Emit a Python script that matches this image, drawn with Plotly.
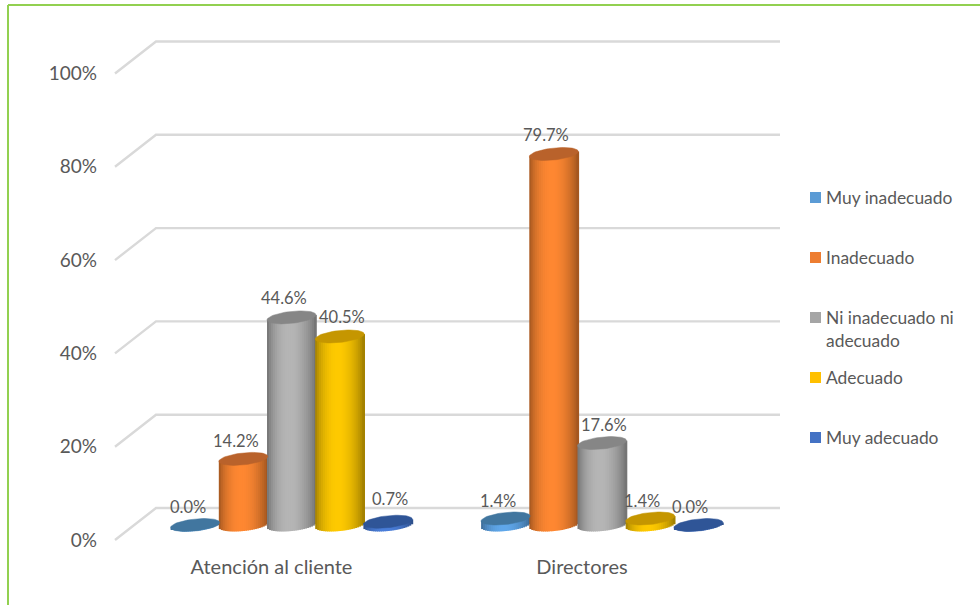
import math
import plotly.graph_objects as go

# Chart data
categories = ["Atención al cliente", "Directores"]
series_names = ["Muy inadecuado", "Inadecuado", "Ni inadecuado ni adecuado", "Adecuado", "Muy adecuado"]
muy_inadecuado = [0.0, 1.4]
inadecuado = [14.2, 79.7]
ni_inadecuado = [44.6, 17.6]
adecuado = [40.5, 1.4]
muy_adecuado = [0.7, 0.0]
tick_values = [0, 20, 40, 60, 80, 100]
tick_labels = ["0%", "20%", "40%", "60%", "80%", "100%"]

series_values = [muy_inadecuado, inadecuado, ni_inadecuado, adecuado, muy_adecuado]

# Colours: lit side of each cylinder, its top cap, and the legend swatch
body_rgb = [(96, 168, 235), (255, 136, 50), (182, 182, 182), (255, 202, 0), (74, 126, 218)]
cap_colors = ["#41769F", "#B9622B", "#868686", "#C59600", "#2F5597"]
swatch_colors = ["#5B9BD5", "#ED7D31", "#A5A5A5", "#FFC000", "#4472C4"]
text_color = "#595959"
font_name = "Lato"

W, H = 980, 605
PX_PER_UNIT = 4.655
FRONT_PX_PER_UNIT = 4.665
CAT_X = (291.5, 602.0)
CAT_LABEL_X = (271.5, 582.0)
BASE_PY = 525
FRONT_ZERO_PY = 540
WALL_ZERO_PY = 508
SLOT_PX = 48.2
RADIUS_PX = 24.5
CAP_B = 6.0
CAP_SHEAR = 2.5
N_STRIPS = 25

cat_step = CAT_X[1] - CAT_X[0]


def x_unit(px):
    return (px - CAT_X[0]) / cat_step


def paper_x(px):
    return px / W


def paper_y(py):
    return 1 - py / H


def shade(u):
    # u runs 0..1 across the cylinder; the highlight sits a little right of centre
    base = math.sin(math.pi * u ** 0.88)
    return 0.60 + 0.40 * max(base, 0) ** 0.75


fig = go.Figure()

# Floor-to-wall slants and wall gridlines, one polyline per axis tick
wall_x, wall_y = [], []
rise = (FRONT_ZERO_PY - WALL_ZERO_PY) / FRONT_PX_PER_UNIT
for v in tick_values:
    wall_x += [x_unit(115), x_unit(156), x_unit(780), None]
    wall_y += [v, v + rise, v + rise, None]
fig.add_trace(go.Scatter(x=wall_x, y=wall_y, mode="lines",
                         line=dict(color="#D9D9D9", width=2.4),
                         showlegend=False, hoverinfo="skip", xaxis="x", yaxis="y"))

# Cylinder bodies: each series is a stack of narrow vertical bar strips
for s, (name, values, rgb) in enumerate(zip(series_names, series_values, body_rgb)):
    offset_px = (s - 2) * SLOT_PX
    step = 2 * RADIUS_PX / N_STRIPS
    for k in range(N_STRIPS):
        left = -RADIUS_PX + k * step
        mid = left + step / 2
        u = mid / RADIUS_PX
        low = (CAP_SHEAR * u - CAP_B * math.sqrt(max(1 - u * u, 0))) / PX_PER_UNIT
        tilt = CAP_SHEAR * u / PX_PER_UNIT
        f = shade((k + 0.5) / N_STRIPS)
        color = "rgb({},{},{})".format(*[int(c * f) for c in rgb])
        fig.add_trace(go.Bar(
            x=[0, 1],
            y=[v + tilt - low for v in values],
            base=[low, low],
            width=(step + 0.8) / cat_step,
            offset=(offset_px + left) / cat_step,
            marker=dict(color=color, line=dict(width=0)),
            name=name, legendgroup=name, showlegend=False, hoverinfo="skip",
            xaxis="x", yaxis="y2",
        ))

# Elliptical top caps, placed at each value
for s, (name, values, cap) in enumerate(zip(series_names, series_values, cap_colors)):
    offset_px = (s - 2) * SLOT_PX
    xs, ys = [], []
    for c, v in enumerate(values):
        for i in range(61):
            t = 2 * math.pi * i / 60
            xs.append(c + (offset_px + RADIUS_PX * math.cos(t)) / cat_step)
            ys.append(v + (CAP_SHEAR * math.cos(t) + CAP_B * math.sin(t)) / PX_PER_UNIT)
        xs.append(None)
        ys.append(None)
    fig.add_trace(go.Scatter(x=xs, y=ys, mode="lines", fill="toself", fillcolor=cap,
                             line=dict(width=0.5, color=cap), name=name,
                             showlegend=False, hoverinfo="skip",
                             xaxis="x", yaxis="y2"))

annotations = []

# Data labels sit just above each cap; crowded ones are nudged sideways
label_dx = [[-7, -8], [-7, -8], [-8, 2], [2, -8], [2, -8]]
label_dy = [[18, 17], [18, 19], [19, 18], [19, 17], [23, 18]]
for s, values in enumerate(series_values):
    offset_px = (s - 2) * SLOT_PX
    for c, v in enumerate(values):
        annotations.append(dict(
            x=c + offset_px / cat_step, y=v, xref="x", yref="y2",
            xshift=label_dx[s][c], yshift=label_dy[s][c],
            text=f"{v:.1f}%", showarrow=False, xanchor="center", yanchor="middle",
            font=dict(family=font_name, size=16.5, color=text_color),
        ))

# Legend column
shapes = []
legend_rows = [197.5, 257.5, 317.5, 377.5, 437.5]
legend_lines = [["Muy inadecuado"], ["Inadecuado"], ["Ni inadecuado ni", "adecuado"],
                ["Adecuado"], ["Muy adecuado"]]
for py, lines, col in zip(legend_rows, legend_lines, swatch_colors):
    shapes.append(dict(type="rect", xref="paper", yref="paper",
                       x0=paper_x(810), x1=paper_x(821),
                       y0=paper_y(py - 5.5), y1=paper_y(py + 5.5),
                       fillcolor=col, line=dict(width=0)))
    for j, line in enumerate(lines):
        annotations.append(dict(
            x=paper_x(823.5), y=paper_y(py + j * 23), xref="paper", yref="paper",
            text=line, showarrow=False, xanchor="left", yanchor="middle",
            font=dict(family=font_name, size=17.4, color=text_color),
        ))

# Green frame, open towards the right and bottom edges
for x0, y0, x1, y1 in [(8, 605, 8, 5), (8, 5, 980, 5)]:
    shapes.append(dict(type="line", xref="paper", yref="paper",
                       x0=paper_x(x0), y0=paper_y(y0), x1=paper_x(x1), y1=paper_y(y1),
                       line=dict(color="#92D050", width=2)))

fig.update_layout(
    width=W, height=H,
    margin=dict(l=0, r=0, t=0, b=0),
    paper_bgcolor="white", plot_bgcolor="white",
    barmode="overlay", showlegend=False,
    shapes=shapes, annotations=annotations,
    xaxis=dict(domain=[0, 1], range=[x_unit(0), x_unit(W)], anchor="free",
               position=paper_y(553), tickvals=[x_unit(p) for p in CAT_LABEL_X], ticktext=categories,
               showgrid=False, zeroline=False, showline=False, ticks="",
               tickfont=dict(family=font_name, size=20, color=text_color)),
    yaxis=dict(domain=[0, 1], anchor="free", position=paper_x(97), side="left",
               range=[(FRONT_ZERO_PY - H) / FRONT_PX_PER_UNIT, FRONT_ZERO_PY / FRONT_PX_PER_UNIT],
               tickvals=tick_values, ticktext=tick_labels, showgrid=False, zeroline=False,
               showline=False, ticks="",
               tickfont=dict(family=font_name, size=19, color=text_color)),
    yaxis2=dict(overlaying="y", anchor="x", visible=False,
                range=[(BASE_PY - H) / PX_PER_UNIT, BASE_PY / PX_PER_UNIT]),
)

fig.write_html("out.html")
